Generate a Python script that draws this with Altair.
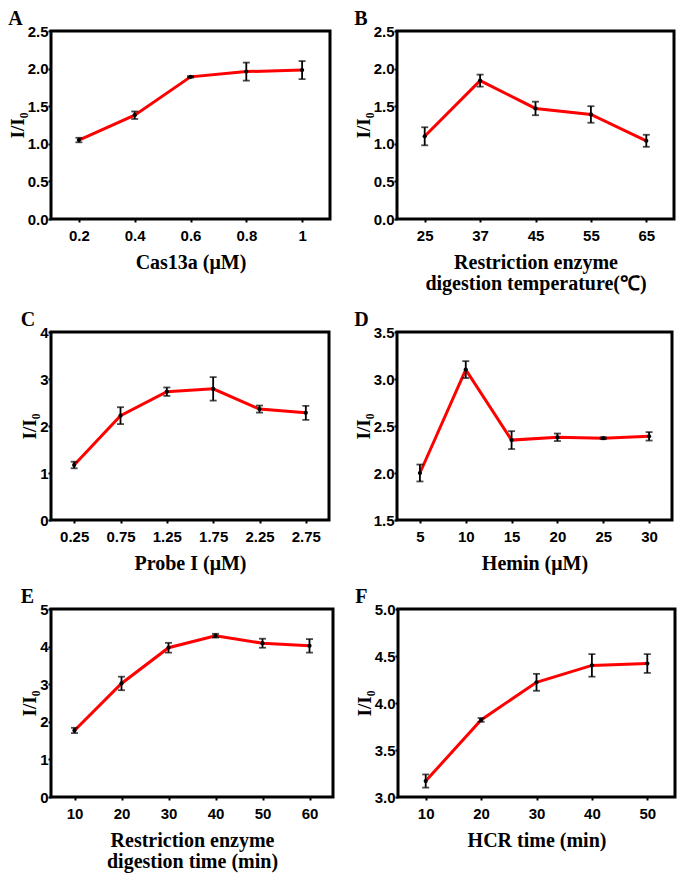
import altair as alt
import pandas as pd

# ---- data ----
a_x = ["0.2", "0.4", "0.6", "0.8", "1"]
a_y = [1.05, 1.38, 1.89, 1.96, 1.98]
a_e = [0.03, 0.05, 0.01, 0.12, 0.12]

b_x = ["25", "37", "45", "55", "65"]
b_y = [1.10, 1.84, 1.47, 1.39, 1.04]
b_e = [0.12, 0.08, 0.09, 0.11, 0.08]

c_x = ["0.25", "0.75", "1.25", "1.75", "2.25", "2.75"]
c_y = [1.17, 2.22, 2.73, 2.79, 2.36, 2.28]
c_e = [0.07, 0.18, 0.09, 0.25, 0.075, 0.15]

d_x = ["5", "10", "15", "20", "25", "30"]
d_y = [2.00, 3.10, 2.35, 2.38, 2.37, 2.39]
d_e = [0.09, 0.09, 0.095, 0.04, 0.01, 0.045]

e_x = ["10", "20", "30", "40", "50", "60"]
e_y = [1.77, 3.02, 3.97, 4.29, 4.09, 4.02]
e_e = [0.07, 0.18, 0.13, 0.05, 0.12, 0.18]

f_x = ["10", "20", "30", "40", "50"]
f_y = [3.17, 3.82, 4.22, 4.40, 4.42]
f_e = [0.07, 0.02, 0.09, 0.12, 0.10]

SERIF = "Times New Roman, Liberation Serif, serif"
SANS = "Arial, Liberation Sans, sans-serif"


def panel(letter, xs, ys, es, xtitle, ydom, yvals, yfmt, w, h=188):
    df = pd.DataFrame({
        "x": xs,
        "y": ys,
        "lo": [v - e for v, e in zip(ys, es)],
        "hi": [v + e for v, e in zip(ys, es)],
    })
    x = alt.X("x:N", sort=xs,
              scale=alt.Scale(type="point", padding=0.5),
              axis=alt.Axis(title=xtitle, labelAngle=0))
    yscale = alt.Scale(domain=ydom, nice=False, zero=False)
    yaxis = alt.Axis(title="I/I₀", values=yvals, format=yfmt,
                     tickCount=len(yvals))
    base = alt.Chart(df)
    line = base.mark_line(color="#ff0000", strokeWidth=3).encode(
        x=x, y=alt.Y("y:Q", scale=yscale, axis=yaxis))
    rule = base.mark_rule(color="black", strokeWidth=1.8).encode(
        x=x, y=alt.Y("lo:Q", scale=yscale), y2="hi:Q")
    tlo = base.mark_tick(color="black", thickness=1.8, size=7,
                         orient="horizontal").encode(
        x=x, y=alt.Y("lo:Q", scale=yscale))
    thi = base.mark_tick(color="black", thickness=1.8, size=7,
                         orient="horizontal").encode(
        x=x, y=alt.Y("hi:Q", scale=yscale))
    pts = base.mark_point(filled=True, color="black", size=18,
                          opacity=1).encode(
        x=x, y=alt.Y("y:Q", scale=yscale))
    return alt.layer(line, rule, tlo, thi, pts).properties(
        width=w, height=h,
        title=alt.TitleParams(letter, anchor="start", frame="bounds",
                              font=SERIF, fontSize=20, fontWeight="bold",
                              offset=-5),
    )


pa = panel("A", a_x, a_y, a_e, "Cas13a (μM)", [0, 2.5],
           [0, 0.5, 1, 1.5, 2, 2.5], ".1f", 279)
pb = panel("B", b_x, b_y, b_e,
           ["Restriction enzyme", "digestion temperature(℃)"], [0, 2.5],
           [0, 0.5, 1, 1.5, 2, 2.5], ".1f", 277)
pc = panel("C", c_x, c_y, c_e, "Probe I (μM)", [0, 4],
           [0, 1, 2, 3, 4], "d", 278)
pd_ = panel("D", d_x, d_y, d_e, "Hemin (μM)", [1.5, 3.5],
            [1.5, 2, 2.5, 3, 3.5], ".1f", 275)
pe = panel("E", e_x, e_y, e_e,
           ["Restriction enzyme", "digestion time (min)"], [0, 5],
           [0, 1, 2, 3, 4, 5], "d", 282, 188)
pf = panel("F", f_x, f_y, f_e, "HCR time (min)", [3, 5],
           [3, 3.5, 4, 4.5, 5], ".1f", 277)

chart = alt.vconcat(
    alt.hconcat(pa, pb, spacing=20),
    alt.vconcat(
        alt.hconcat(pc, pd_, spacing=21),
        alt.hconcat(pe, pf, spacing=18),
        spacing=10,
    ),
    spacing=13,
).properties(
    padding={"left": -2, "top": -1, "right": 0, "bottom": 0}
).configure_view(
    stroke="black", strokeWidth=3
).configure_axis(
    domain=False, grid=False, labelOverlap=False,
    ticks=True, tickColor="black", tickWidth=2, tickSize=3,
    labelFont=SANS, labelFontWeight="bold", labelFontSize=15,
    labelColor="black",
    titleFont=SERIF, titleFontWeight="bold", titleColor="black",
).configure_axisX(
    titleFontSize=20, titlePadding=9, labelPadding=6, titleLineHeight=21,
).configure_axisY(
    titleFontSize=19, titlePadding=0, labelPadding=0,
).configure_title(
    color="black"
)

chart.save("out.html", embed_options={"renderer": "svg", "actions": False})
